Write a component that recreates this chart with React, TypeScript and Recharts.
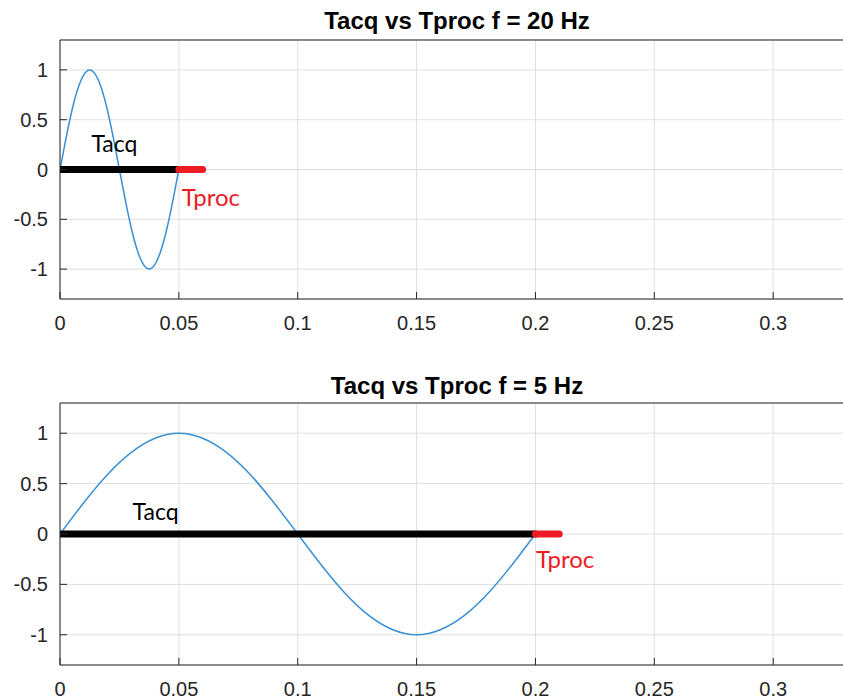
import React from 'react';
import {
    LineChart,
    Line,
    XAxis,
    YAxis,
    CartesianGrid,
    ReferenceDot,
    ReferenceLine
} from 'recharts';

// time samples and signal values
const topTime = [0, 0.0025, 0.005, 0.0075, 0.01, 0.0125, 0.015, 0.0175, 0.02, 0.0225, 0.025,
    0.0275, 0.03, 0.0325, 0.035, 0.0375, 0.04, 0.0425, 0.045, 0.0475, 0.05];
const bottomTime = [0, 0.01, 0.02, 0.03, 0.04, 0.05, 0.06, 0.07, 0.08, 0.09, 0.1,
    0.11, 0.12, 0.13, 0.14, 0.15, 0.16, 0.17, 0.18, 0.19, 0.2];
const signalValues = [0, 0.31, 0.59, 0.81, 0.95, 1, 0.95, 0.81, 0.59, 0.31, 0,
    -0.31, -0.59, -0.81, -0.95, -1, -0.95, -0.81, -0.59, -0.31, 0];

const topAcq = [0, 0.05];
const topProc = [0.05, 0.06];
const bottomAcq = [0, 0.2];
const bottomProc = [0.2, 0.21];

const xTicks = [0, 0.05, 0.1, 0.15, 0.2, 0.25, 0.3];
const yTicks = [-1, -0.5, 0, 0.5, 1];

const titles = ['Tacq vs Tproc f = 20 Hz', 'Tacq vs Tproc f = 5 Hz'];

const BLUE = '#3b8fd3';
const RED = '#ed1c24';
const AXIS = '#262626';
const TICK_FONT = '"Liberation Sans", Arial, sans-serif';
const TEXT_FONT = 'Lato, "Open Sans", sans-serif';

const toPoints = (xs: number[], ys: number[]) => xs.map((x, i) => ({ x, y: ys[i] }));
const toSegment = (xs: number[]) => xs.map(x => ({ x, y: 0 }));

interface PanelProps {
    time: number[];
    acq: number[];
    proc: number[];
    acqLabel: [number, number];
    procLabel: [number, number];
    height: number;
}

const Panel: React.FC<PanelProps> = ({ time, acq, proc, acqLabel, procLabel, height }) => {
    const wave = toPoints(time, signalValues);
    const tick = { fill: AXIS, fontSize: 20, fontFamily: TICK_FONT };
    return (
        <LineChart width={870} height={height} margin={{ top: 40, right: 16, bottom: 0, left: 0 }}>
            <CartesianGrid stroke="#dfdfdf" />
            <XAxis
                dataKey="x"
                type="number"
                domain={[0, 0.334]}
                ticks={xTicks}
                allowDataOverflow
                height={41}
                stroke={AXIS}
                tick={tick}
                tickSize={-7}
                tickMargin={24}
            />
            <XAxis
                xAxisId="top"
                orientation="top"
                type="number"
                domain={[0, 0.334]}
                ticks={xTicks}
                height={0}
                stroke={AXIS}
                tick={false}
                tickSize={-7}
            />
            <YAxis
                type="number"
                domain={[-1.3, 1.3]}
                ticks={yTicks}
                allowDataOverflow
                width={60}
                stroke={AXIS}
                tick={tick}
                tickSize={-7}
                tickMargin={19}
            />
            <ReferenceLine y={1.3} stroke={AXIS} strokeWidth={1.2} ifOverflow="extendDomain" />
            <Line data={wave} dataKey="y" type="natural" stroke={BLUE} strokeWidth={1.5}
                dot={false} isAnimationActive={false} />
            <Line data={toSegment(acq)} dataKey="y" type="linear" stroke="#000" strokeWidth={7}
                strokeLinecap="round" dot={false} isAnimationActive={false} />
            <Line data={toSegment(proc)} dataKey="y" type="linear" stroke={RED} strokeWidth={7}
                strokeLinecap="round" dot={false} isAnimationActive={false} />
            <ReferenceDot x={acqLabel[0]} y={acqLabel[1]} r={0} stroke="none"
                label={{ value: 'Tacq', position: 'right', offset: 0, fill: '#000', fontSize: 23, fontFamily: TEXT_FONT }} />
            <ReferenceDot x={procLabel[0]} y={procLabel[1]} r={0} stroke="none"
                label={{ value: 'Tproc', position: 'right', offset: 0, fill: RED, fontSize: 24, fontFamily: TEXT_FONT }} />
        </LineChart>
    );
};

const titleStyle = (top: number): React.CSSProperties => ({
    position: 'absolute',
    top,
    left: 60,
    width: 794,
    textAlign: 'center',
    fontFamily: TICK_FONT,
    fontWeight: 'bold',
    fontSize: 24,
    lineHeight: '24px',
    color: '#000'
});

export default function App() {
    return (
        <div style={{ position: 'absolute', left: 0, top: 0, width: 843, height: 700, overflow: 'hidden', background: '#fff' }}>
            <div style={titleStyle(9)}>{titles[0]}</div>
            <div style={{ position: 'absolute', left: 0, top: 0 }}>
                <Panel time={topTime} acq={topAcq} proc={topProc}
                    acqLabel={[0.0132, 0.26]} procLabel={[0.0512, -0.28]} height={340} />
            </div>
            <div style={titleStyle(374)}>{titles[1]}</div>
            <div style={{ position: 'absolute', left: 0, top: 363 }}>
                <Panel time={bottomTime} acq={bottomAcq} proc={bottomProc}
                    acqLabel={[0.0305, 0.22]} procLabel={[0.2002, -0.25]} height={343} />
            </div>
        </div>
    );
}
